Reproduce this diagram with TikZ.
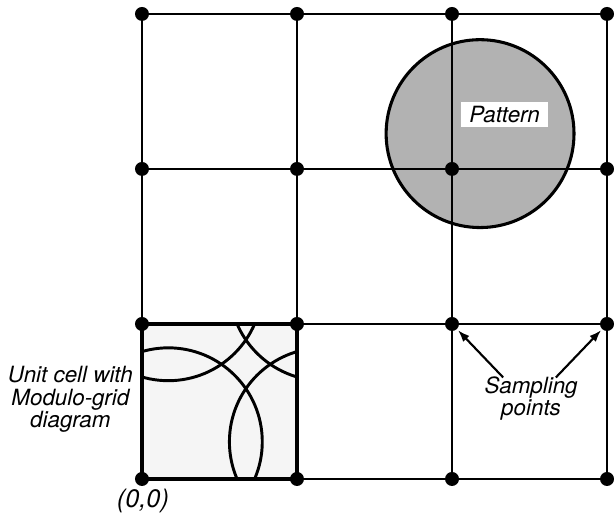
\documentclass[tikz,border=0pt]{standalone}
\usepackage{fontspec}
\setmainfont{TeX Gyre Heros}
\usetikzlibrary{arrows.meta}

\definecolor{patGray}{gray}{0.70}
\definecolor{cellGray}{gray}{0.96}

\begin{document}
\begin{tikzpicture}[
        >={Latex[length=9pt,width=6.5pt]},
        x=116.4pt, y=116.4pt,
        every node/.style={font=\fontsize{16.8}{17}\selectfont\itshape},
        gridLine/.style={black, line width=1.9pt},
        patternDisk/.style={fill=patGray, draw=black, line width=2.3pt},
        moduloArc/.style={black, line width=2.2pt},
        cellBorder/.style={black, line width=2.8pt},
        samplePt/.style={circle, fill=black, inner sep=0pt, minimum size=10.5pt},
        pointerArrow/.style={->, black, line width=1.6pt, shorten >=1pt}
    ]
        \useasboundingbox (-0.916,-0.226) rectangle (3.045,3.090);

        % Pattern on the plane, drawn below the grid
        \fill[patternDisk] (2.181,2.228) circle (0.606);

        % Unit cell with the folded pattern
        \fill[cellGray] (0,0) rectangle (1,1);
        \begin{scope}
            \clip (0,0) rectangle (1,1);
            \foreach \i in {0,1}
                \foreach \j in {0,1}
                    \draw[moduloArc] (0.170+\i,0.240+\j) circle (0.606);
        \end{scope}

        % Sampling grid
        \foreach \k in {0,...,3} {
            \draw[gridLine] (\k,0) -- (\k,2.97);
            \draw[gridLine] (0,\k) -- (3,\k);
        }
        \draw[cellBorder] (0,0) rectangle (1,1);

        % Sampling points
        \foreach \i in {0,...,3}
            \foreach \j in {0,...,3}
                \node[samplePt] (p\i\j) at (\i,\j) {};

        \node[fill=white, inner xsep=6pt, inner ysep=3pt] (patLabel) at (2.339,2.352) {Pattern};

        \node[align=center] (cellLabel) at (-0.462,0.512)
            {Unit cell with\\Modulo-grid\\diagram};
        \node[font=\fontsize{19}{21}\selectfont\itshape] (origin) at (0.006,-0.142) {(0,0)};

        \node[align=center] (sampLabel) at (2.51,0.52) {Sampling\\points};
        \coordinate (tailL) at (2.33,0.655);
        \coordinate (tailR) at (2.67,0.655);
        \draw[pointerArrow] (tailL) -- (p21);
        \draw[pointerArrow] (tailR) -- (p31);

    \end{tikzpicture}
\end{document}
